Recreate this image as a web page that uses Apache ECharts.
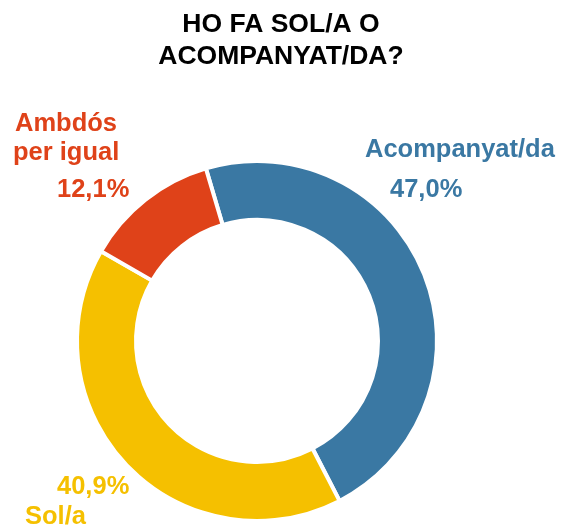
<!DOCTYPE html>
<html>
<head>
<meta charset="utf-8">
<script src="https://cdn.jsdelivr.net/npm/echarts@6/dist/echarts.min.js"></script>
<style>
  html, body { margin: 0; padding: 0; background: #fff; }
  #chart { width: 562px; height: 528px; }
</style>
</head>
<body>
<div id="chart"></div>
<script>
// dades del gràfic
var titleLines = ["HO FA SOL/A O", "ACOMPANYAT/DA?"];
var categories = ["Acompanyat/da", "Sol/a", "Ambdós per igual"];
var values = [47.0, 40.9, 12.1];
var colors = ["#3A78A3", "#F5C000", "#DF4219"];
// com es parteix el nom de cada etiqueta
var nameLines = [["Acompanyat/da"], ["Sol/a"], ["Ambdós", "per igual"]];
var pctFirst = [false, true, false];

var font = "'Liberation Sans', Arial, sans-serif";

// on va cada etiqueta (x, y de la caixa, alçada i sagnat de cada línia)
var labelPos = [
  { x: 365, y: 130, lh: [40, 40], pad: [0, 25] },
  { x: 25, y: 472, lh: [30, 30], pad: [32, 0] },
  { x: 13, y: 110, lh: [28, 30, 44], pad: [2, 0, 44] }
];

function pct(v) {
  return v.toFixed(1).replace(".", ",") + "%";
}

var data = categories.map(function (name, i) {
  var lines = nameLines[i].slice();
  if (pctFirst[i]) lines.unshift(pct(values[i]));
  else lines.push(pct(values[i]));
  var rich = {};
  var parts = lines.map(function (t, k) {
    rich["l" + k] = {
      color: colors[i],
      fontSize: 25.5,
      fontWeight: "bold",
      fontFamily: font,
      lineHeight: labelPos[i].lh[k],
      padding: [0, 0, 0, labelPos[i].pad[k]]
    };
    return "{l" + k + "|" + t + "}";
  });
  return {
    name: name,
    value: values[i],
    itemStyle: { color: colors[i] },
    label: { formatter: parts.join("\n"), rich: rich }
  };
});

var myChart = echarts.init(document.getElementById("chart"));

var option = {
  backgroundColor: "#fff",
  animation: false,
  title: {
    text: titleLines.join("\n"),
    left: "center",
    top: 9,
    padding: [0, 0, 0, 12],
    textStyle: {
      color: "#000",
      fontSize: 26.5,
      fontWeight: "bold",
      fontFamily: font,
      lineHeight: 32
    }
  },
  series: [
    {
      type: "pie",
      center: [257, 341],
      radius: [121, 180],
      startAngle: 106.5,
      clockwise: true,
      avoidLabelOverlap: false,
      itemStyle: { borderColor: "#fff", borderWidth: 4 },
      label: { show: true, position: "outside" },
      labelLine: { show: false },
      labelLayout: function (params) {
        var p = labelPos[params.dataIndex];
        return { x: p.x, y: p.y, align: "left", verticalAlign: "top" };
      },
      emphasis: { disabled: true },
      data: data
    }
  ]
};

myChart.setOption(option);
</script>
</body>
</html>
